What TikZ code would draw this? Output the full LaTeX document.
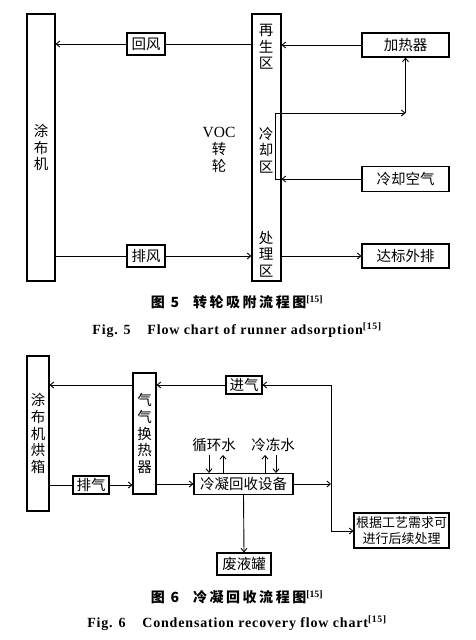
\documentclass[tikz,border=0pt]{standalone}
\usepackage{fontspec}
\setmainfont{Liberation Serif}
\newfontfamily\cjk{Noto Sans CJK SC}
\newfontfamily\cjkcap{Noto Sans CJK SC}[LetterSpace=18]
\newfontfamily\encap{Liberation Serif}[LetterSpace=6]
\usetikzlibrary{arrows.meta}
\tikzset{>={Straight Barb[length=3.5pt,width=6pt]}}
\tikzset{
    blk/.style={draw, line width=1.1pt, inner sep=0pt, align=center,
        font=\cjk\fontsize{14.5}{16.7}\selectfont},
    zone/.style={inner sep=0pt, align=center, font=\cjk\fontsize{14.5}{16.7}\selectfont},
    flow/.style={->, line width=0.9pt},
    wire/.style={line width=0.9pt},
    capcn/.style={inner sep=0pt, font=\cjkcap\bfseries\fontsize{14}{16}\selectfont},
    capen/.style={inner sep=0pt, font=\encap\bfseries\fontsize{14}{16}\selectfont}
}

\begin{document}
\begin{tikzpicture}[x=1pt, y=-1pt]
    \useasboundingbox (0,0) rectangle (476,640);

    % Fig. 5
    \node[blk, minimum width=28pt, minimum height=267pt] (coater) at (41,147.5) {涂\\布\\机};
    \node[blk, minimum width=29pt, minimum height=267pt] (rotor) at (266.5,147.5) {};
    \node[zone] (regen) at (266,47) {再\\生\\区};
    \node[zone] (coolz) at (266,150) {冷\\却\\区};
    \node[zone] (treat) at (266,254) {处\\理\\区};
    \node[zone] (voc) at (219,150) {{\rmfamily\fontsize{15.5}{16.7}\selectfont VOC}\\转\\轮};
    \node[blk, minimum width=38pt, minimum height=22pt] (huifeng) at (146,44) {回风};
    \node[blk, minimum width=38pt, minimum height=22pt] (paifeng) at (146,256) {排风};
    \node[blk, minimum width=87pt, minimum height=24pt] (heater) at (405.5,45) {加热器};
    \node[blk, minimum width=87pt, minimum height=25pt] (coolair) at (405.5,179) {冷却空气};
    \node[blk, minimum width=87pt, minimum height=24pt] (outlet) at (405.5,256) {达标外排};
    \coordinate (loop) at (275,113);

    \draw[wire] (huifeng.east) -- (huifeng.east -| rotor.west);
    \draw[flow] (huifeng.west) -- (huifeng.west -| coater.east);
    \draw[flow] (heater.west) -- (heater.west -| rotor.east);
    \draw[wire] (coolair.west) -- (loop |- coolair.west) -- (loop);
    \draw[flow] (coolair.west) -- (coolair.west -| rotor.east);
    \draw[flow] (loop) -- (loop -| heater.south);
    \draw[flow] (loop -| heater.south) -- (heater.south);
    \draw[wire] (coater.east |- paifeng) -- (paifeng.west);
    \draw[flow] (paifeng.east) -- (paifeng.east -| rotor.west);
    \draw[flow] (rotor.east |- outlet) -- (outlet.west);

    \node[capcn] (cap5) at (237,302) {图 5\hspace{1em}转轮吸附流程图\textsuperscript{\rmfamily [15]}};
    \node[capen] (cap5en) at (237,330) {Fig. 5\hspace{1.2em}Flow chart of runner adsorption\textsuperscript{[15]}};

    % Fig. 6
    \node[blk, minimum width=22pt, minimum height=155pt] (oven) at (38,433.5) {涂\\布\\机\\烘\\箱};
    \node[blk, minimum width=23pt, minimum height=121pt] (hx) at (144.5,433.5) {气\\气\\换\\热\\器};
    \node[blk, minimum width=36pt, minimum height=18pt] (jinqi) at (244,385) {进气};
    \node[blk, minimum width=36pt, minimum height=18pt] (paiqi) at (91,485) {排气};
    \node[blk, minimum width=99pt, minimum height=21pt] (cond) at (243.5,484) {冷凝回收设备};
    \node[blk, minimum width=95pt, minimum height=35pt,
        font=\cjk\fontsize{13}{15.5}\selectfont] (follow) at (401.5,530.5) {根据工艺需求可\\进行后续处理};
    \node[blk, minimum width=54pt, minimum height=22pt] (waste) at (244,564) {废液罐};
    \node[zone] (xhs) at (214,445) {循环水};
    \node[zone] (ldw) at (273,445) {冷冻水};
    \coordinate (top) at (331,385);
    \coordinate (bot) at (331,531);

    \draw[flow] (top) -- (jinqi.east);
    \draw[flow] (jinqi.west) -- (jinqi.west -| hx.east);
    \draw[flow] (hx.west |- top) -- (oven.east |- top);
    \draw[wire] (top) -- (bot);
    \draw[flow] (bot) -- (bot -| follow.west);
    \draw[wire] (oven.east |- paiqi) -- (paiqi.west);
    \draw[flow] (paiqi.east) -- (paiqi.east -| hx.west);
    \draw[flow] (hx.east |- cond) -- (cond.west);
    \draw[flow] (cond.east) -- (cond.east -| top);
    \draw[flow] (cond.south) -- (waste.north);
    \draw[flow] ([xshift=-5pt,yshift=-3pt]xhs.south) -- ([xshift=-5pt]xhs.south |- cond.north);
    \draw[flow] ([xshift=9pt]xhs.south |- cond.north) -- ([xshift=9pt,yshift=-3pt]xhs.south);
    \draw[flow] ([xshift=-8pt]ldw.south |- cond.north) -- ([xshift=-8pt,yshift=-3pt]ldw.south);
    \draw[flow] ([xshift=3pt,yshift=-3pt]ldw.south) -- ([xshift=3pt]ldw.south |- cond.north);

    \node[capcn] (cap6) at (237,597) {图 6\hspace{1em}冷凝回收流程图\textsuperscript{\rmfamily [15]}};
    \node[capen] (cap6en) at (237,623) {Fig. 6\hspace{1.2em}Condensation recovery flow chart\textsuperscript{[15]}};
\end{tikzpicture}
\end{document}
